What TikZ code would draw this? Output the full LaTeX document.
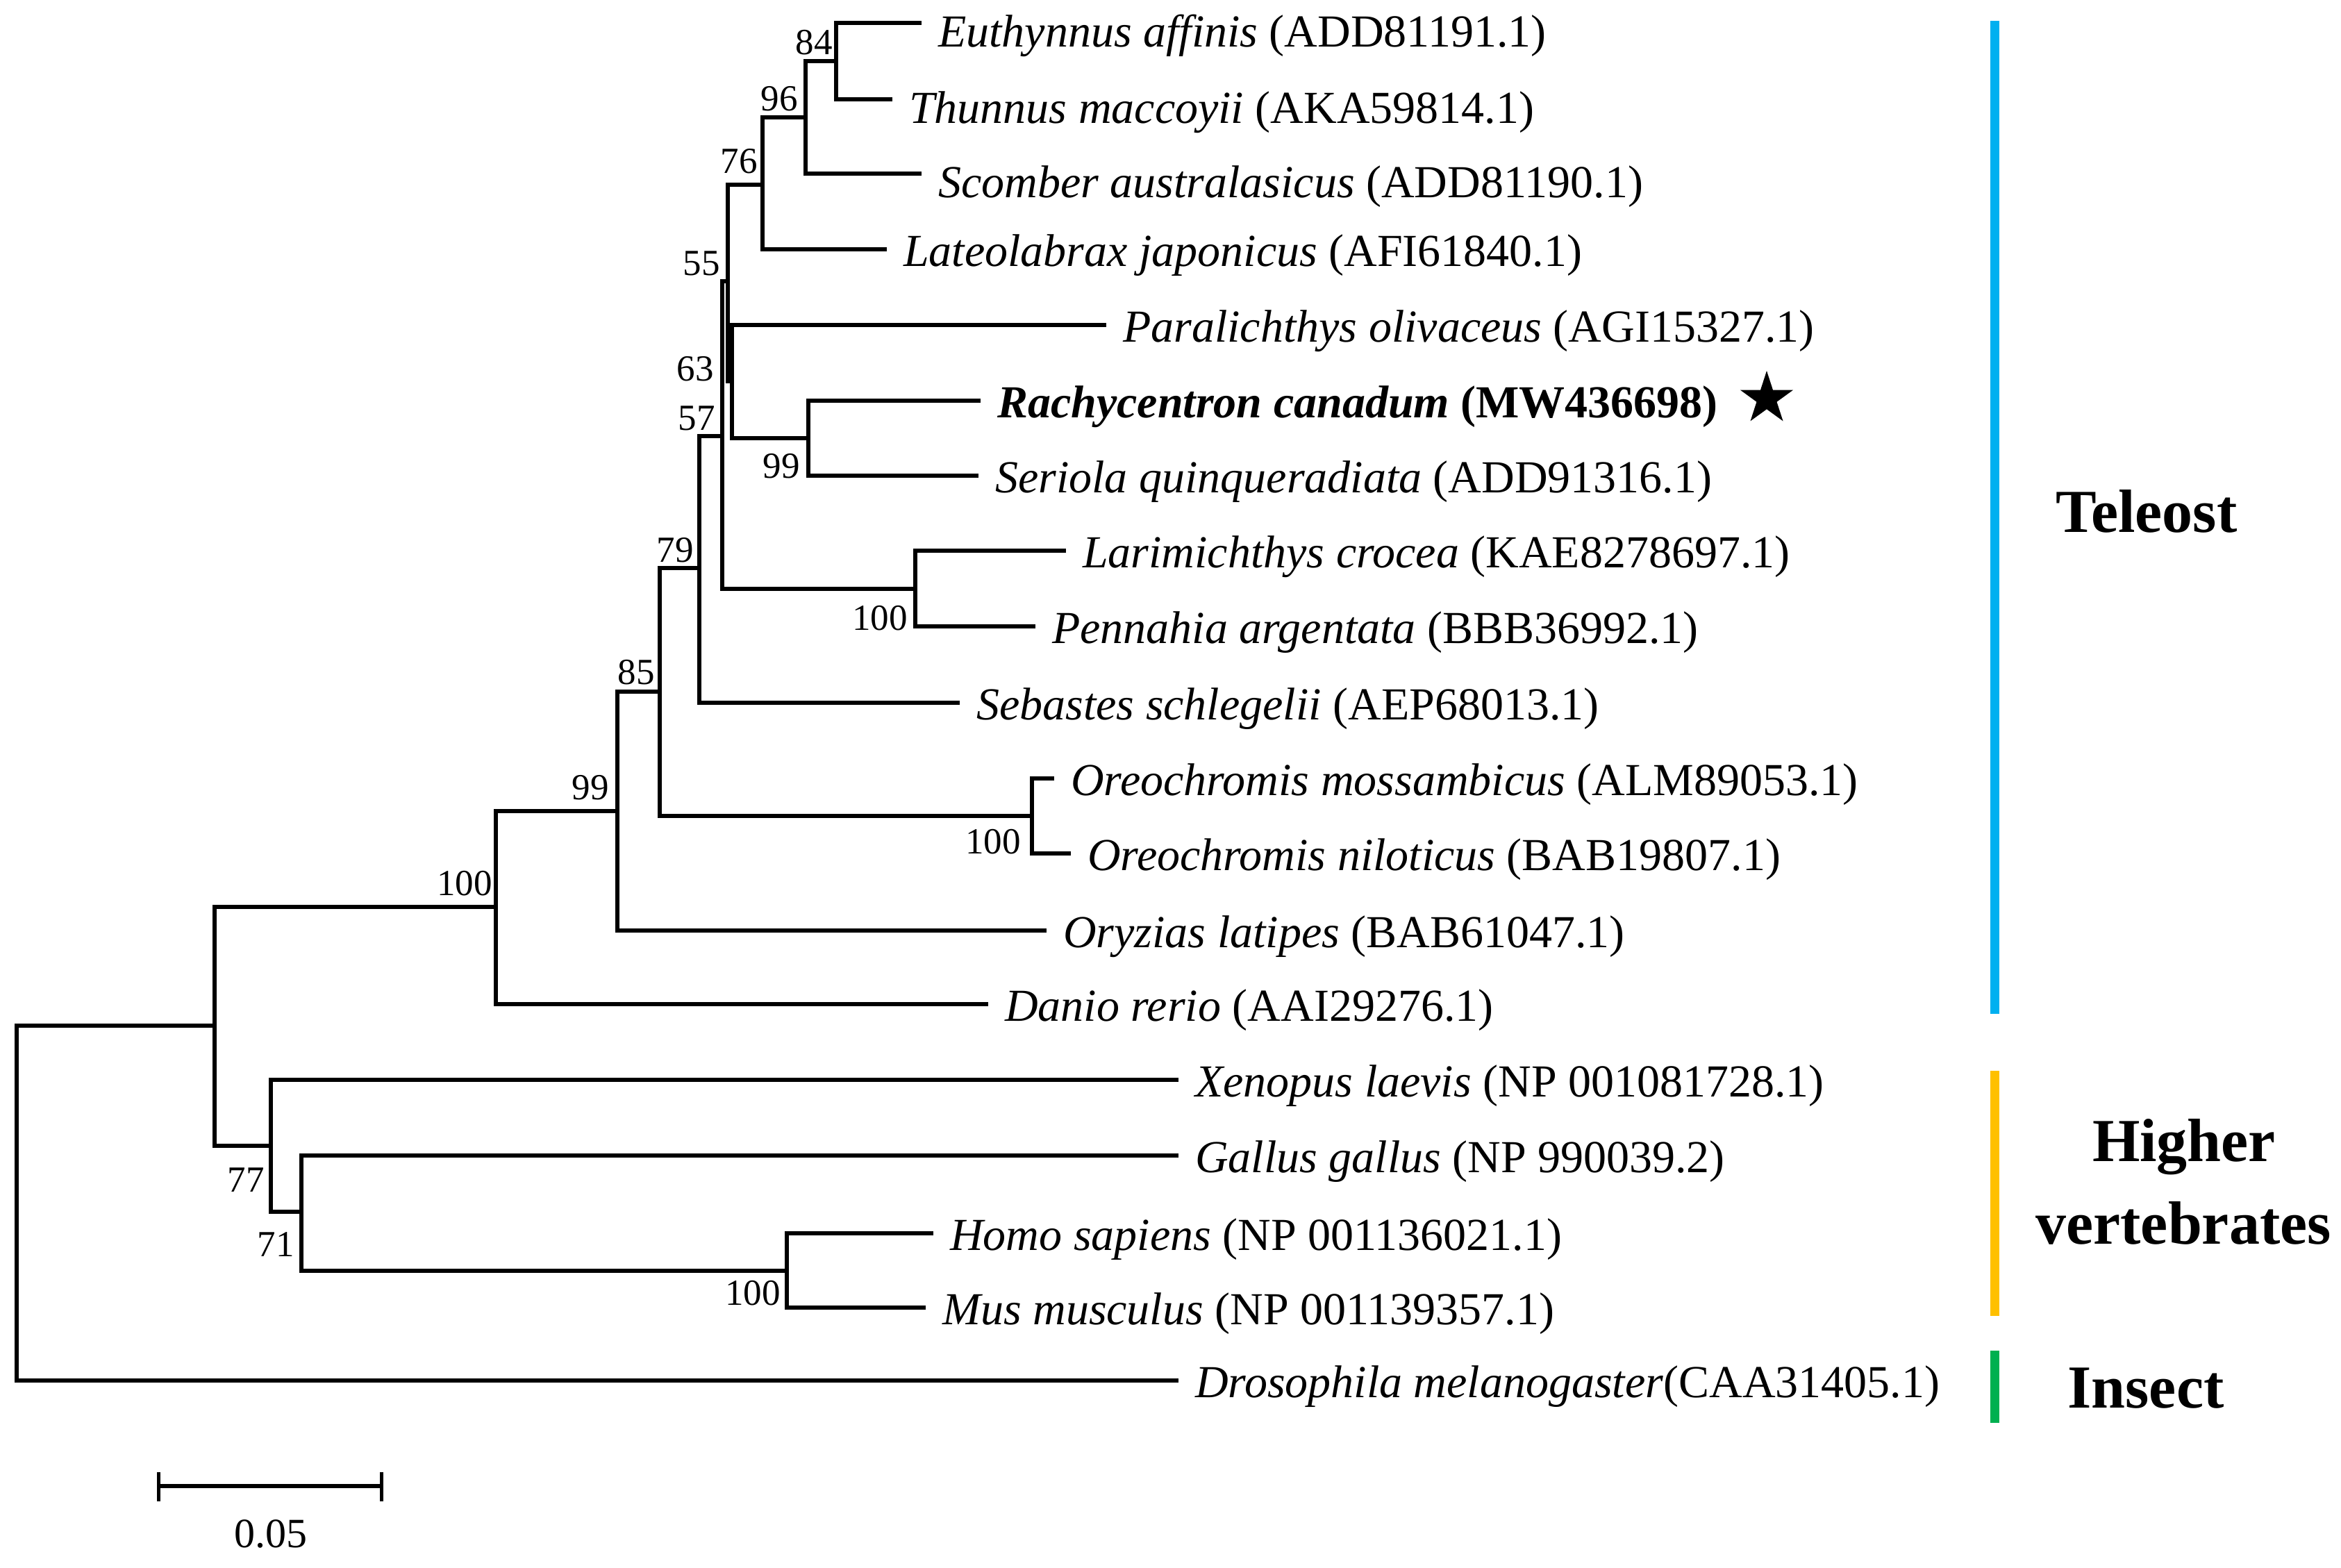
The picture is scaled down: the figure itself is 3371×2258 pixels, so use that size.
\documentclass[tikz,border=0pt]{standalone}
\usepackage{fontspec}
\setmainfont{Liberation Serif}
\usetikzlibrary{shapes.geometric}
\definecolor{teleblue}{HTML}{00B0F0}
\definecolor{highyellow}{HTML}{FFC000}
\definecolor{insgreen}{HTML}{00B050}
\tikzset{
  br/.style={line width=5.5pt, line join=miter},
  leafbase/.style={anchor=base west, inner sep=0pt, xshift=24pt, font=\fontsize{66}{79}\selectfont},
  leafhi/.style={leafbase, yshift=-35pt},
  leaf/.style={leafbase, yshift=-24pt},
  boot/.style={anchor=center, inner sep=0pt, font=\fontsize{53}{64}\selectfont},
  grp/.style={anchor=base, inner sep=0pt, font=\fontsize{88}{106}\selectfont\bfseries},
  bar/.style={line width=13pt}
}
\begin{document}
\begin{tikzpicture}[x=1pt,y=-1pt]
\useasboundingbox[fill=white] (0,0) rectangle (3371,2258);
% leaf tips
\coordinate (t1) at (1327,33);
\coordinate (t2) at (1285,143);
\coordinate (t3) at (1327,250);
\coordinate (t4) at (1277,359);
\coordinate (t5) at (1593,468);
\coordinate (t6) at (1412,577);
\coordinate (t7) at (1409,685);
\coordinate (t8) at (1535,793);
\coordinate (t9) at (1491,902);
\coordinate (t10) at (1382,1012);
\coordinate (t11) at (1518,1121);
\coordinate (t12) at (1542,1229);
\coordinate (t13) at (1507,1340);
\coordinate (t14) at (1423,1446);
\coordinate (t15) at (1697,1555);
\coordinate (t16) at (1697,1664);
\coordinate (t17) at (1344,1776);
\coordinate (t18) at (1333,1883);
\coordinate (t19) at (1697,1988);
% internal nodes
\coordinate (n84) at (1204,88);
\coordinate (n96) at (1160,169);
\coordinate (n76) at (1098,266);
\coordinate (n55) at (1048,552);
\coordinate (j1) at (1048,405);
\coordinate (j2) at (1054,468);
\coordinate (j3) at (1048,468);
\coordinate (n99a) at (1164,631);
\coordinate (n57) at (1040,628);
\coordinate (n100a) at (1318,848);
\coordinate (n79) at (1007,818);
\coordinate (n85) at (950,996);
\coordinate (n100b) at (1486,1175);
\coordinate (n99b) at (889,1168);
\coordinate (n100c) at (714,1306);
\coordinate (nTop) at (309,1477);
\coordinate (n77) at (390,1650);
\coordinate (n71) at (434,1745);
\coordinate (n100d) at (1133,1830);
\coordinate (root) at (24,1732);
% branches
\draw[br] (t1) -| (n84) |- (t2);
\draw[br] (n84) -| (n96) |- (t3);
\draw[br] (n96) -| (n76) |- (t4);
\draw[br] (n76) -| (n55);
\draw[br] (j3) -- (t5);
\draw[br] (j2) |- (n99a);
\draw[br] (t6) -| (n99a) |- (t7);
\draw[br] (j1) -| (n57) |- (n100a);
\draw[br] (t8) -| (n100a) |- (t9);
\draw[br] (n57) -| (n79) |- (t10);
\draw[br] (n79) -| (n85) |- (n100b);
\draw[br] (t11) -| (n100b) |- (t12);
\draw[br] (n85) -| (n99b) |- (t13);
\draw[br] (n99b) -| (n100c) |- (t14);
\draw[br] (n100c) -| (nTop) |- (n77);
\draw[br] (t15) -| (n77) |- (n71);
\draw[br] (t16) -| (n71) |- (n100d);
\draw[br] (t17) -| (n100d) |- (t18);
\draw[br] (nTop) -| (root) |- (t19);
% leaf labels
\node[leafhi] (L1) at (t1) {\textit{Euthynnus affinis} (ADD81191.1)};
\node[leafhi] (L2) at (t2) {\textit{Thunnus maccoyii} (AKA59814.1)};
\node[leafhi] (L3) at (t3) {\textit{Scomber australasicus} (ADD81190.1)};
\node[leaf] (L4) at (t4) {\textit{Lateolabrax japonicus} (AFI61840.1)};
\node[leaf] (L5) at (t5) {\textit{Paralichthys olivaceus} (AGI15327.1)};
\node[leaf] (L6) at (t6) {\textbf{\textit{Rachycentron canadum} (MW436698)}};
\node[leaf] (L7) at (t7) {\textit{Seriola quinqueradiata} (ADD91316.1)};
\node[leaf] (L8) at (t8) {\textit{Larimichthys crocea} (KAE8278697.1)};
\node[leaf] (L9) at (t9) {\textit{Pennahia argentata} (BBB36992.1)};
\node[leaf] (L10) at (t10) {\textit{Sebastes schlegelii} (AEP68013.1)};
\node[leaf] (L11) at (t11) {\textit{Oreochromis mossambicus} (ALM89053.1)};
\node[leaf] (L12) at (t12) {\textit{Oreochromis niloticus} (BAB19807.1)};
\node[leaf] (L13) at (t13) {\textit{Oryzias latipes} (BAB61047.1)};
\node[leaf] (L14) at (t14) {\textit{Danio rerio} (AAI29276.1)};
\node[leaf] (L15) at (t15) {\textit{Xenopus laevis} (NP 001081728.1)};
\node[leaf] (L16) at (t16) {\textit{Gallus gallus} (NP 990039.2)};
\node[leaf] (L17) at (t17) {\textit{Homo sapiens} (NP 001136021.1)};
\node[leaf] (L18) at (t18) {\textit{Mus musculus} (NP 001139357.1)};
\node[leaf] (L19) at (t19) {\textit{Drosophila melanogaster}(CAA31405.1)};
% star
\node[star, star points=5, star point ratio=2.618, fill=black, draw=none, inner sep=0pt, minimum size=80pt] (mark) at (2544,574) {};
% bootstrap values
\node[boot] (b84) at (1172,61) {84};
\node[boot] (b96) at (1122,142) {96};
\node[boot] (b76) at (1064,232) {76};
\node[boot] (b55) at (1010,379) {55};
\node[boot] (b63) at (1001,531) {63};
\node[boot] (b57) at (1003,602) {57};
\node[boot] (b99a) at (1125,671) {99};
\node[boot] (b79) at (972,792) {79};
\node[boot] (b100a) at (1267,890) {100};
\node[boot] (b85) at (916,968) {85};
\node[boot] (b99b) at (850,1134) {99};
\node[boot] (b100b) at (1430,1212) {100};
\node[boot] (b100c) at (669,1272) {100};
\node[boot] (b77) at (354,1699) {77};
\node[boot] (b71) at (397,1792) {71};
\node[boot] (b100d) at (1084,1862) {100};
% group bars
\coordinate (g1a) at (2872,30);
\coordinate (g1b) at (2872,1460);
\coordinate (g2a) at (2872,1542);
\coordinate (g2b) at (2872,1895);
\coordinate (g3a) at (2872,1945);
\coordinate (g3b) at (2872,2049);
\draw[bar, teleblue] (g1a) -- (g1b);
\draw[bar, highyellow] (g2a) -- (g2b);
\draw[bar, insgreen] (g3a) -- (g3b);
\node[grp] (tele) at (3091,766) {Teleost};
\node[grp] (hv1) at (3145,1672) {Higher};
\node[grp] (hv2) at (3144,1791) {vertebrates};
\node[grp] (ins) at (3090,2027) {Insect};
% scale bar
\coordinate (s1) at (228,2140);
\coordinate (s2) at (549,2140);
\draw[line width=6.5pt] (s1) -- (s2);
\draw[line width=5pt] ([yshift=20pt]s1) -- ([yshift=-22pt]s1);
\draw[line width=5pt] ([yshift=20pt]s2) -- ([yshift=-22pt]s2);
\node[anchor=center, inner sep=0pt, font=\fontsize{60}{72}\selectfont] (sc) at (390,2209) {0.05};
\end{tikzpicture}
\end{document}
